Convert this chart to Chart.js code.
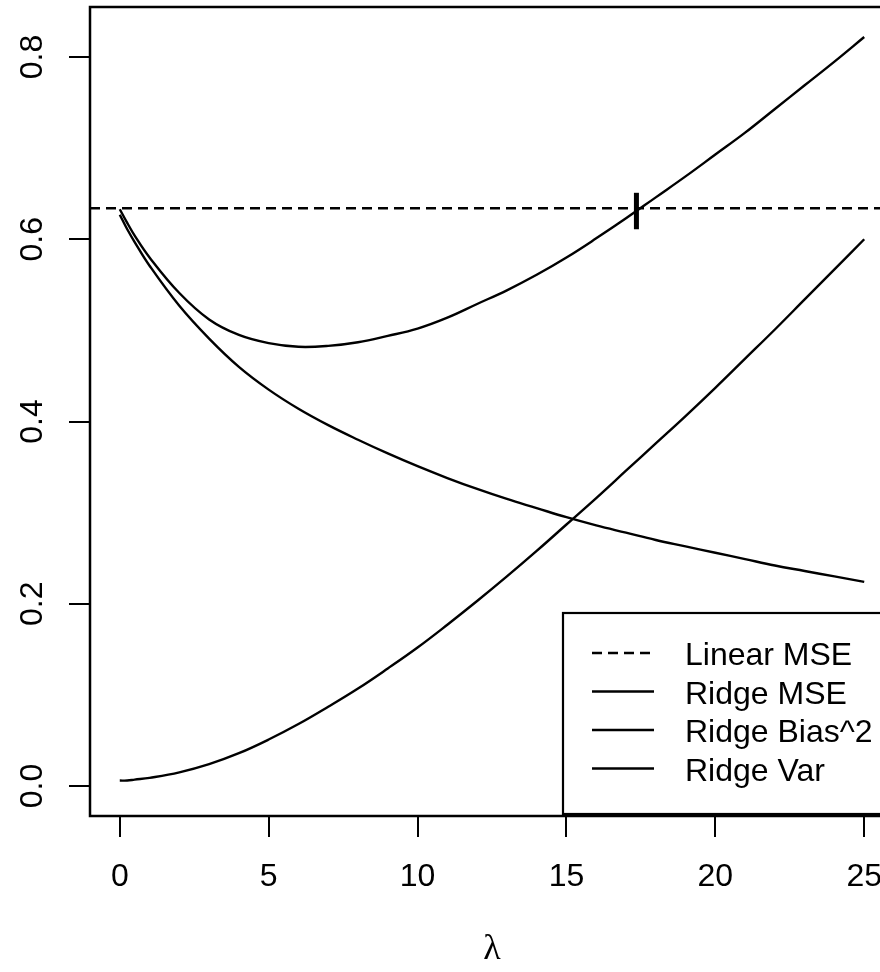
<!DOCTYPE html>
<html>
<head>
<meta charset="utf-8">
<script src="https://cdn.jsdelivr.net/npm/chart.js@4.4.1/dist/chart.umd.min.js"></script>
<style>
  html, body { margin: 0; padding: 0; background: #fff; overflow: hidden; }
  #plot { display: block; }
</style>
</head>
<body>
<canvas id="plot" width="920" height="972"></canvas>
<script>
// values
const lambda     = [0, 0.25, 0.5, 1, 2, 3, 4, 5, 6, 7, 8, 9, 10, 11, 12, 13, 14, 15, 16, 17, 18, 19, 20, 21, 22, 23, 24, 25];
const ridgeMSE   = [0.633, 0.618, 0.604, 0.580, 0.541, 0.512, 0.495, 0.486, 0.482, 0.483, 0.487, 0.494, 0.502, 0.514, 0.529, 0.544, 0.561, 0.580, 0.601, 0.623, 0.646, 0.669, 0.693, 0.717, 0.743, 0.769, 0.795, 0.822];
const ridgeBias2 = [0.006, 0.006, 0.007, 0.009, 0.015, 0.024, 0.036, 0.051, 0.068, 0.087, 0.107, 0.129, 0.152, 0.177, 0.203, 0.230, 0.258, 0.287, 0.316, 0.346, 0.376, 0.406, 0.437, 0.469, 0.501, 0.534, 0.567, 0.600];
const ridgeVar   = [0.627, 0.611, 0.597, 0.571, 0.527, 0.491, 0.460, 0.435, 0.414, 0.396, 0.380, 0.365, 0.351, 0.338, 0.326, 0.315, 0.305, 0.295, 0.286, 0.278, 0.270, 0.263, 0.256, 0.249, 0.242, 0.236, 0.230, 0.224];
const linearMSE  = 0.634;
const markLambda = 17.35;
const markRange  = [0.611, 0.651];

const xTicks = [0, 5, 10, 15, 20, 25];
const yTicks = [0.0, 0.2, 0.4, 0.6, 0.8];
const xRange = [-1, 26];
const yRange = [-0.0329, 0.8549];

const legendLabels = ['Linear MSE', 'Ridge MSE', 'Ridge Bias^2', 'Ridge Var'];

const sans = '"Liberation Sans", Arial, Helvetica, sans-serif';

function pts(ys) {
    return lambda.map((l, i) => ({ x: l, y: ys[i] }));
}

const curve = { borderColor: '#000', borderWidth: 2.4, pointRadius: 0, fill: false, tension: 0.4 };

// box, rotated y labels and the legend
const framePlugin = {
    id: 'frame',
    afterDatasetsDraw(chart) {
        const { ctx, chartArea: a, scales: { y } } = chart;
        ctx.save();
        ctx.strokeStyle = '#000';
        ctx.lineWidth = 2.5;
        ctx.strokeRect(a.left, a.top, a.right - a.left, a.bottom - a.top);

        ctx.fillStyle = '#000';
        ctx.font = '32px ' + sans;
        ctx.textAlign = 'center';
        ctx.textBaseline = 'middle';
        yTicks.forEach(v => {
            ctx.save();
            ctx.translate(33, y.getPixelForValue(v));
            ctx.rotate(-Math.PI / 2);
            ctx.fillText(v.toFixed(1), 0, 0);
            ctx.restore();
        });

        // legend box (bottom right, partly off the page like the original)
        const lx = 563, ly = 613, lb = a.bottom - 2;
        ctx.fillStyle = '#fff';
        ctx.fillRect(lx, ly, 400, lb - ly);
        ctx.lineWidth = 2.2;
        ctx.strokeRect(lx, ly, 400, lb - ly);

        ctx.fillStyle = '#000';
        ctx.textAlign = 'left';
        ctx.textBaseline = 'alphabetic';
        legendLabels.forEach((lab, i) => {
            const base = 665 + i * 38.5;
            ctx.beginPath();
            ctx.lineWidth = 2.4;
            ctx.setLineDash(i === 0 ? [10, 6] : []);
            ctx.moveTo(592, base - 12);
            ctx.lineTo(654, base - 12);
            ctx.stroke();
            ctx.setLineDash([]);
            ctx.fillText(lab, 685, base);
        });
        ctx.restore();
    }
};

new Chart(document.getElementById('plot'), {
    type: 'line',
    data: {
        datasets: [
            { ...curve, data: [{ x: xRange[0], y: linearMSE }, { x: xRange[1], y: linearMSE }], borderDash: [10, 6], tension: 0 },
            { ...curve, data: pts(ridgeMSE) },
            { ...curve, data: pts(ridgeBias2) },
            { ...curve, data: pts(ridgeVar) },
            { ...curve, data: markRange.map(v => ({ x: markLambda, y: v })), borderWidth: 5, tension: 0 }
        ]
    },
    options: {
        responsive: false,
        animation: false,
        layout: { padding: { top: 7, right: 26, left: 0, bottom: 0 } },
        plugins: { legend: { display: false }, tooltip: { enabled: false } },
        scales: {
            x: {
                type: 'linear',
                min: xRange[0],
                max: xRange[1],
                afterBuildTicks: s => { s.ticks = xTicks.map(v => ({ value: v })); },
                afterFit: s => { s.height = 156; },
                grid: { drawOnChartArea: false, drawTicks: true, tickLength: 21, color: '#000', lineWidth: 2 },
                border: { display: false },
                ticks: { color: '#000', font: { family: sans, size: 32 }, padding: 21, maxRotation: 0 },
                title: { display: true, text: 'λ', color: '#000', font: { family: '"Liberation Serif", "DejaVu Serif", serif', size: 36, lineHeight: 1 }, padding: { top: 0, bottom: 4 } }
            },
            y: {
                type: 'linear',
                min: yRange[0],
                max: yRange[1],
                afterBuildTicks: s => { s.ticks = yTicks.map(v => ({ value: v })); },
                afterFit: s => { s.width = 90; },
                grid: { drawOnChartArea: false, drawTicks: true, tickLength: 21, color: '#000', lineWidth: 2 },
                border: { display: false },
                ticks: { display: false }
            }
        }
    },
    plugins: [framePlugin]
});
</script>
</body>
</html>
